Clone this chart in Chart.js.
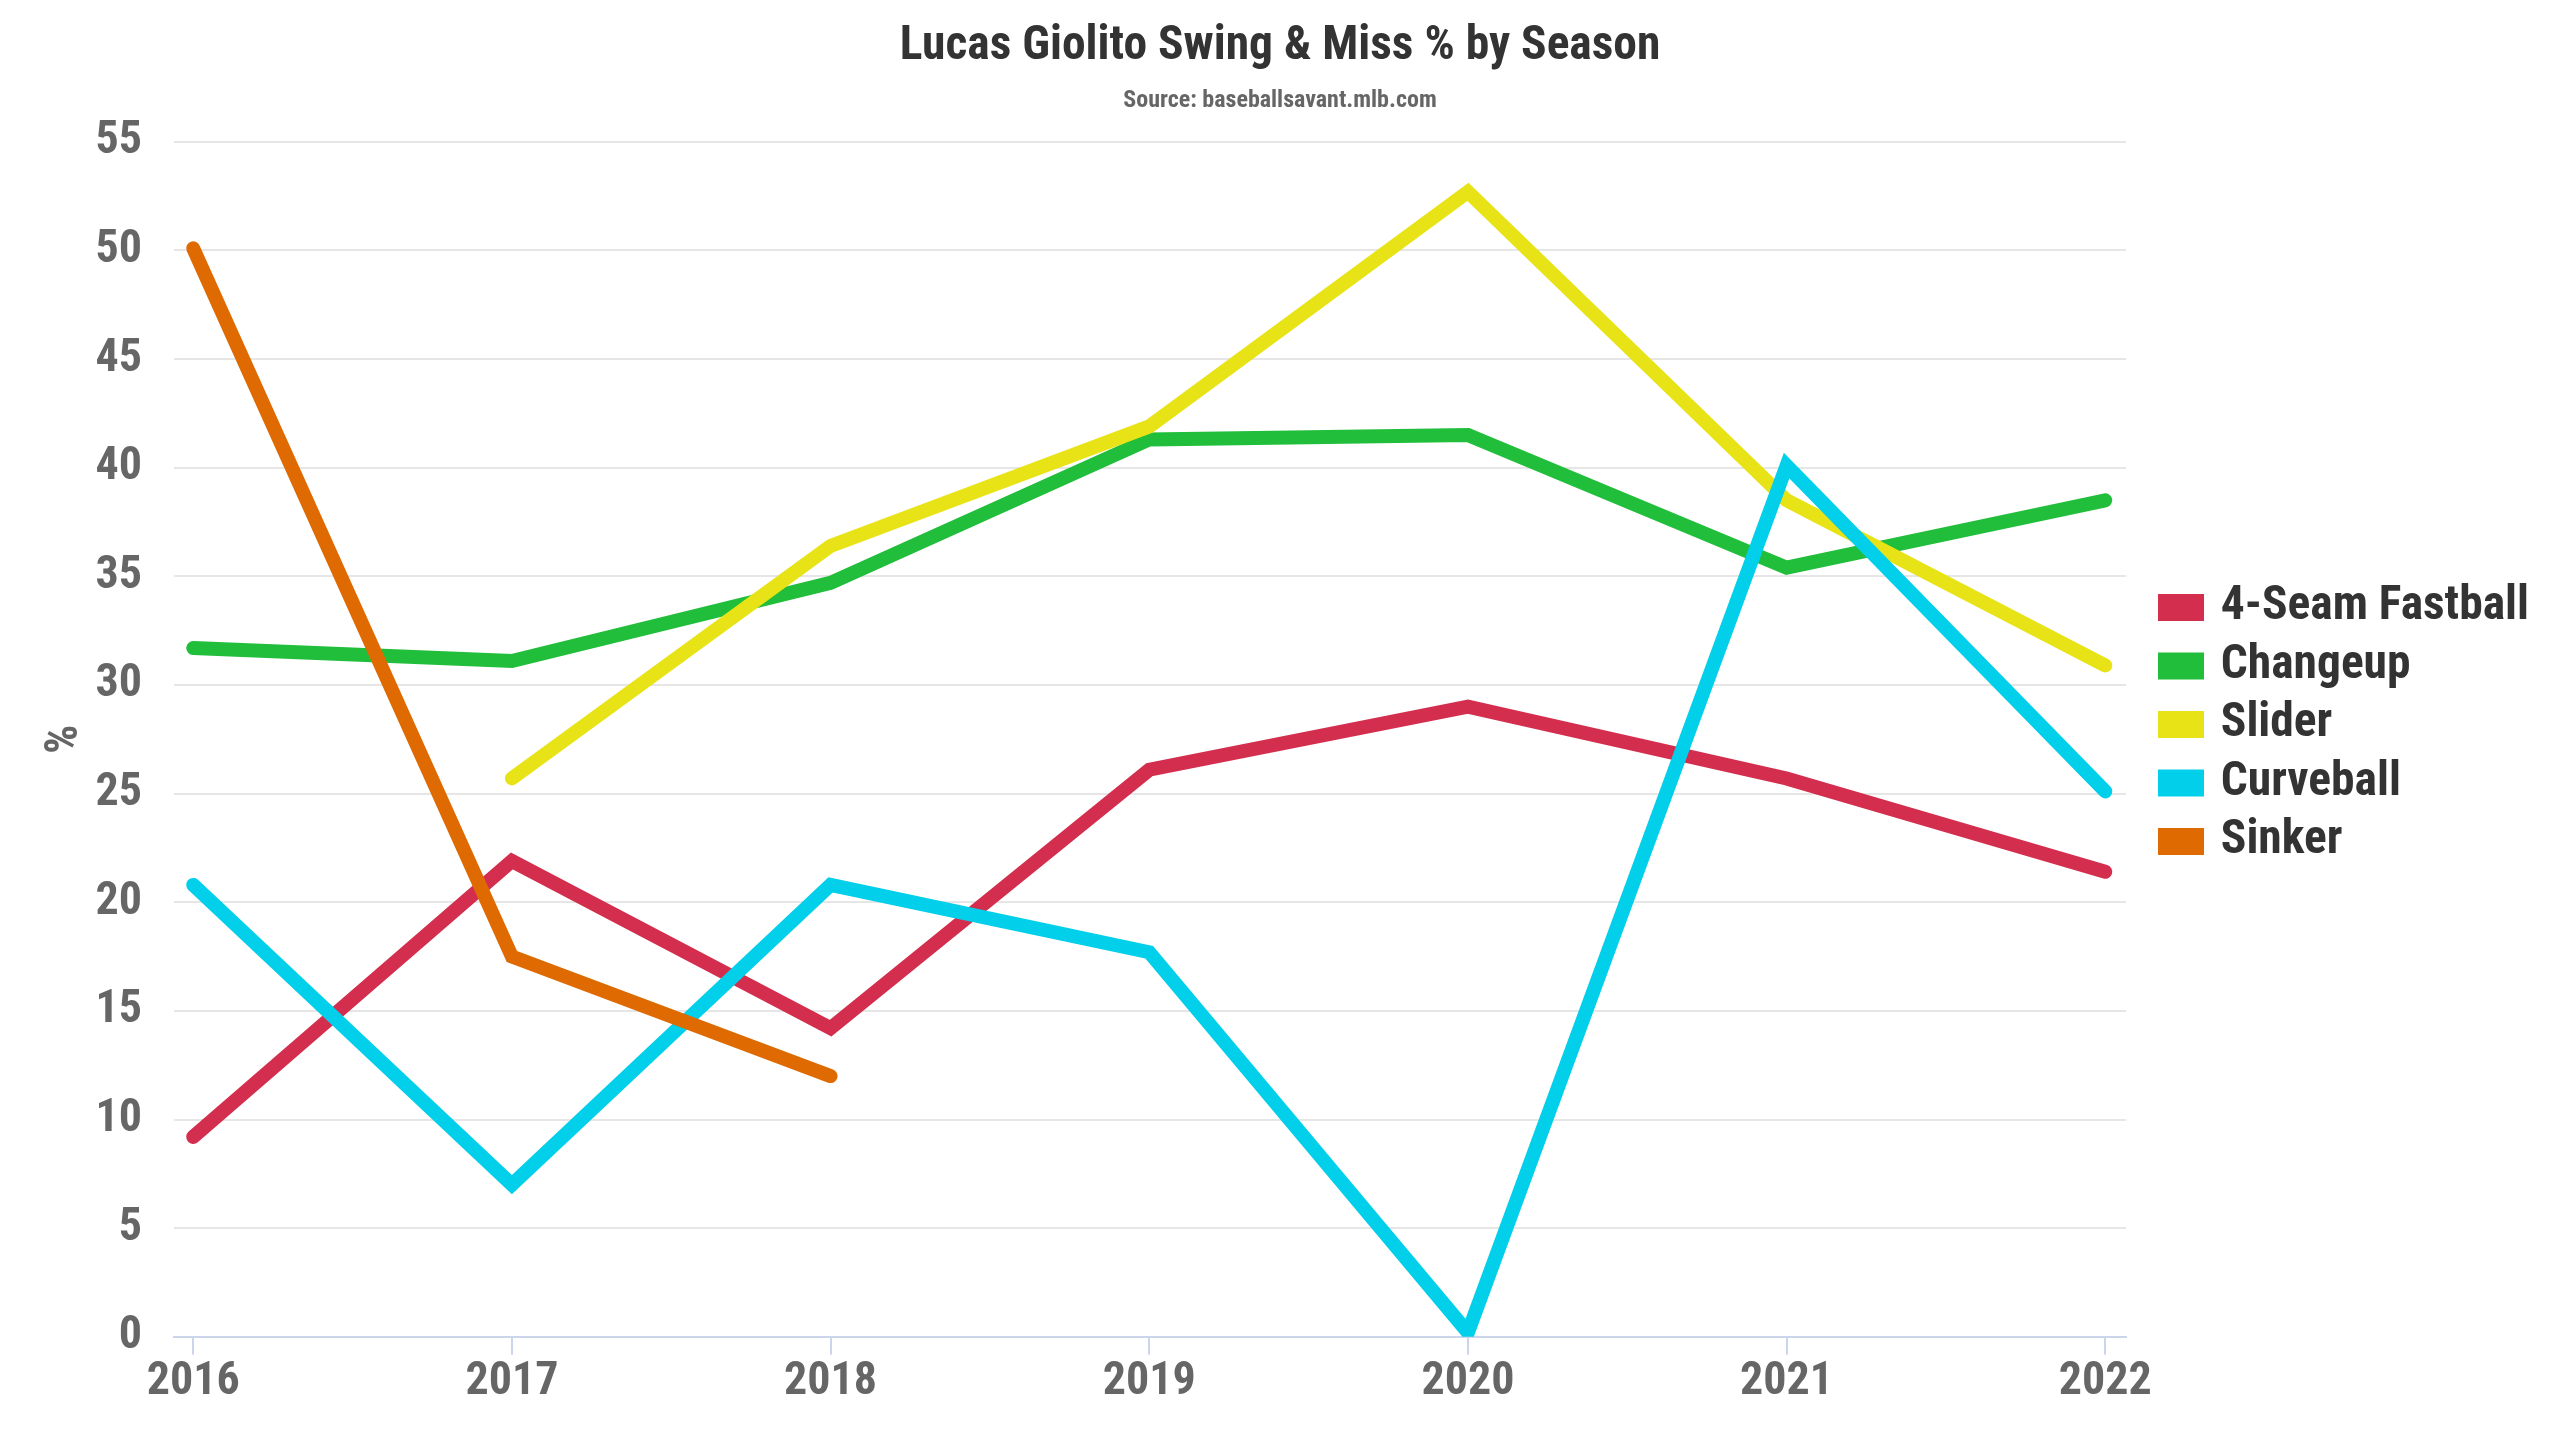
<!DOCTYPE html>
<html>
<head>
<meta charset="utf-8">
<title>Lucas Giolito Swing &amp; Miss % by Season</title>
<script src="https://cdn.jsdelivr.net/npm/chart.js@4.4.1/dist/chart.umd.min.js"></script>
<style>
    html, body { margin: 0; padding: 0; background: #ffffff; }
    #wrap { width: 2560px; height: 1440px; }
</style>
</head>
<body>
<div id="wrap"><canvas id="swingChart"></canvas></div>
<script>
// season labels
const seasons = [2016, 2017, 2018, 2019, 2020, 2021, 2022];

// swing & miss % per pitch type (null = pitch not thrown that year)
const fourSeam = [9.2, 21.9, 14.2, 26.1, 29.0, 25.7, 21.4];
const changeup = [31.7, 31.1, 34.7, 41.3, 41.5, 35.4, 38.5];
const slider = [null, 25.7, 36.4, 41.9, 52.7, 38.5, 30.9];
const curveball = [20.8, 7.0, 20.8, 17.7, 0.2, 40.1, 25.1];
const sinker = [50.1, 17.5, 12.0, null, null, null, null];

const seriesNames = ["4-Seam Fastball", "Changeup", "Slider", "Curveball", "Sinker"];
const seriesValues = [fourSeam, changeup, slider, curveball, sinker];
const seriesColors = ["#d42e4e", "#20be3a", "#e8e317", "#02cfea", "#df6a02"];

// y axis ticks
const yTicks = [0, 5, 10, 15, 20, 25, 30, 35, 40, 45, 50, 55];

const FONT = "'Roboto Condensed', 'Liberation Sans Narrow', 'DejaVu Sans Condensed', Roboto, sans-serif";

// extra room between plot and legend
const LEGEND_EXTRA = 25; // added to the legend box width
const LEGEND_SHIFT = 28; // legend items pushed right by this much

const legendGapPlugin = {
    id: "legendGap",
    afterInit(chart) {
        const legend = chart.legend;
        if (!legend) return;
        const fit = legend.fit;
        legend.fit = function () {
            fit.call(this);
            this.width += LEGEND_EXTRA;
        };
        const draw = legend.draw;
        legend.draw = function () {
            this.left += LEGEND_SHIFT;
            this.right += LEGEND_SHIFT;
            draw.call(this);
            this.left -= LEGEND_SHIFT;
            this.right -= LEGEND_SHIFT;
        };
    },
};

document.addEventListener("DOMContentLoaded", () => {
    const ctx = document.getElementById("swingChart").getContext("2d");

    const datasets = seriesNames.map((name, i) => ({
        label: name,
        data: seasons.map((yr, j) => ({ x: yr, y: seriesValues[i][j] })),
        borderColor: seriesColors[i],
        backgroundColor: seriesColors[i],
        borderWidth: 14,
        borderCapStyle: "round",
        pointRadius: 0,
        pointHoverRadius: 0,
        tension: 0,
        fill: false,
        order: -i, // later series drawn on top
    }));

    new Chart(ctx, {
        type: "line",
        data: { datasets: datasets },
        plugins: [legendGapPlugin],
        options: {
            responsive: true,
            maintainAspectRatio: false,
            devicePixelRatio: 1,
            animation: false,
            layout: {
                padding: { left: 24, right: 24, top: 19, bottom: 10 },
            },
            scales: {
                x: {
                    type: "linear",
                    min: 2015.94,
                    max: 2022.065,
                    afterBuildTicks: (axis) => {
                        axis.ticks = seasons.map((v) => ({ value: v }));
                    },
                    grid: {
                        drawOnChartArea: false,
                        drawTicks: true,
                        tickLength: 18,
                        color: "#ccd6eb",
                        lineWidth: 2,
                    },
                    border: { display: true, color: "#ccd6eb", width: 2 },
                    ticks: {
                        padding: 0,
                        color: "#666666",
                        font: { family: FONT, size: 46, weight: "bold" },
                        callback: (v) => String(v),
                    },
                    title: {
                        display: true,
                        text: " ",
                        font: { size: 10 },
                        padding: { top: 0, bottom: 8 },
                    },
                },
                y: {
                    min: 0,
                    max: 55,
                    afterBuildTicks: (axis) => {
                        axis.ticks = yTicks.map((v) => ({ value: v }));
                    },
                    grid: {
                        color: "#e6e6e6",
                        lineWidth: 2,
                        drawTicks: false,
                    },
                    border: { display: false },
                    ticks: {
                        padding: 32,
                        color: "#666666",
                        font: { family: FONT, size: 46, weight: "bold" },
                    },
                    title: {
                        display: true,
                        text: "%",
                        color: "#666666",
                        font: { family: FONT, size: 46, weight: "bold" },
                        padding: { top: 14, bottom: -29.6 },
                    },
                },
            },
            plugins: {
                title: {
                    display: true,
                    text: "Lucas Giolito Swing & Miss % by Season",
                    color: "#333333",
                    font: { family: FONT, size: 47.5, weight: "bold" },
                    padding: { top: 0, bottom: 11 },
                },
                subtitle: {
                    display: true,
                    text: "Source: baseballsavant.mlb.com",
                    color: "#666666",
                    font: { family: FONT, size: 24, weight: "bold" },
                    padding: { top: 0, bottom: 26 },
                },
                legend: {
                    position: "right",
                    align: "center",
                    labels: {
                        boxWidth: 32,
                        boxHeight: 13,
                        padding: 11,
                        color: "#333333",
                        font: { family: FONT, size: 47.5, weight: "bold" },
                        sort: (a, b) => a.datasetIndex - b.datasetIndex,
                    },
                },
                tooltip: { enabled: false },
            },
        },
    });
});
</script>
</body>
</html>
